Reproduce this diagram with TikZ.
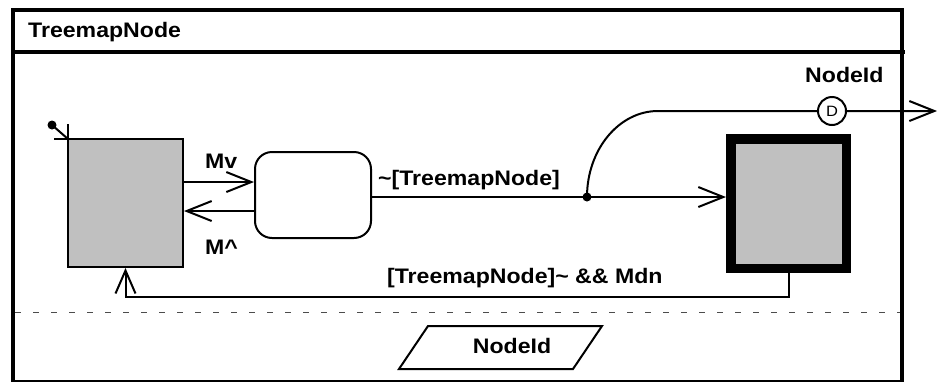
\documentclass[tikz,border=0pt]{standalone}
\usepackage{fontspec}
\setmainfont[FakeStretch=1.1]{Liberation Sans}
\usetikzlibrary{arrows.meta}
\definecolor{boxgray}{RGB}{192,192,192}
\tikzset{
  lbl/.style={font=\fontsize{21pt}{25pt}\selectfont\bfseries, inner sep=0pt},
  thin/.style={line width=2pt},
  arr/.style={thin, -{Straight Barb[length=25pt,width=20pt,line width=2pt]}},
  statebox/.style={draw, thin, fill=boxgray, rectangle, inner sep=0pt},
}
\begin{document}
\begin{tikzpicture}[x=1pt,y=-1pt]
\useasboundingbox (0,0) rectangle (937,381);
\fill[white] (0,0) rectangle (937,381);

% outer frame and header
\draw[line width=4pt] (13,10) rectangle (902,382);
\draw[line width=4pt] (13,52) -- (905,52);
\node[lbl, anchor=base west] (title) at (28,37) {TreemapNode};

% region separator
\draw[line width=1pt, black!70, dash pattern=on 6pt off 12pt] (15,312) -- (900,312);

% states
\node[statebox, minimum width=115pt, minimum height=128pt] (src) at (125.5,203) {};
\node[draw, thin, rounded corners=17pt, minimum width=116pt, minimum height=86pt, inner sep=0pt] (mid) at (313,195) {};
\node[draw, line width=9.5pt, fill=boxgray, rectangle, inner sep=0pt,
      minimum width=115.5pt, minimum height=129.5pt] (dst) at (788.5,203.5) {};

% initial marker
\coordinate (ini) at (52,125);
\draw[thin] (68,124) -- (68,139) -- (54,139);
\draw[thin] (ini) -- (68,139);
\fill (ini) circle (4.5pt);

% transitions
\draw[arr] (src.east |- 0,182) -- (mid.west |- 0,182);
\draw[arr] (mid.west |- 0,211) -- (src.east |- 0,211);
\node[lbl, anchor=base west] (mv) at (205,168) {Mv};
\node[lbl, anchor=base west] (mup) at (205,254) {M\^{}};

\coordinate (jn) at (587,197);
\draw[arr] (mid.east |- jn) -- (jn) -- (dst.west |- jn);
\fill (jn) circle (4.5pt);
\node[lbl, anchor=base west] (tl) at (378,185) {\char`\~[TreemapNode]};

\coordinate (outp) at (937,111);
\draw[arr] (jn) .. controls (587,149.5) and (619,111) .. (658,111) -- (outp);
\node[draw, thin, circle, fill=white, minimum size=28pt, inner sep=0pt,
      font=\fontsize{15pt}{17pt}\selectfont] (dc) at (832,111) {D};
\node[lbl, anchor=base west] (oid) at (805,82) {NodeId};

\draw[thin, -{Straight Barb[length=23pt,width=20pt,line width=2pt]}]
  (dst.south) -- (dst.south |- 0,297) -| (src.south);
\node[lbl, anchor=base west] (bl) at (387,283) {[TreemapNode]\char`\~{} \&\& Mdn};

% data selector
\draw[thin] (428,326) -- (602,326) -- (573,369) -- (399,369) -- cycle;
\node[lbl, anchor=base] (sel) at (512,353) {NodeId};
\end{tikzpicture}
\end{document}
